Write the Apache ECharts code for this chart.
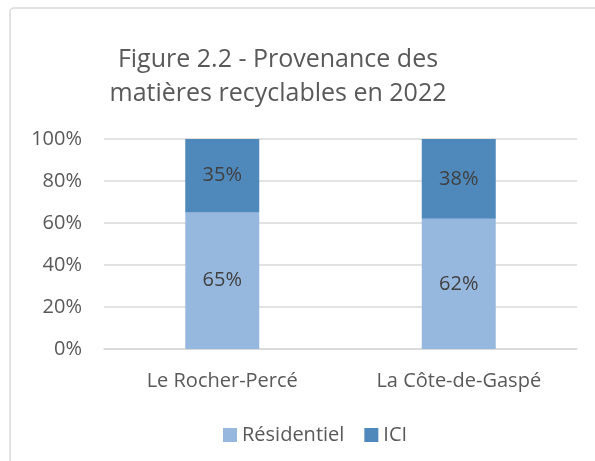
<!DOCTYPE html>
<html>
<head>
<meta charset="utf-8">
<script src="https://cdn.jsdelivr.net/npm/echarts@6/dist/echarts.min.js"></script>
<style>
  html, body { margin: 0; padding: 0; background: #fff; }
  #chart { width: 595px; height: 461px; }
</style>
</head>
<body>
<div id="chart"></div>
<script>
const categories = ['Le Rocher-Percé', 'La Côte-de-Gaspé']
const residentiel = [65, 62]
const ici = [35, 38]
const seriesNames = ['Résidentiel', 'ICI']

const FONT = 'Open Sans'
const chart = echarts.init(document.getElementById('chart'))

const option = {
  animation: false,
  backgroundColor: '#fff',
  textStyle: { fontFamily: FONT },
  title: {
    text: 'Figure 2.2 - Provenance des\nmatières recyclables en 2022',
    left: 273,
    top: 38,
    textAlign: 'center',
    textStyle: {
      fontFamily: FONT,
      fontSize: 25,
      fontWeight: 'normal',
      lineHeight: 34,
      color: '#595959'
    }
  },
  legend: {
    data: seriesNames,
    left: 218,
    top: 420,
    itemWidth: 14,
    itemHeight: 14,
    itemGap: 20,
    textStyle: { fontSize: 20, color: '#595959', fontFamily: FONT },
    icon: 'rect'
  },
  grid: {
    left: 104,
    right: 18,
    top: 139,
    bottom: 112
  },
  xAxis: {
    type: 'category',
    data: categories,
    axisTick: { show: false },
    axisLine: { lineStyle: { color: '#d9d9d9', width: 1.5 } },
    axisLabel: { color: '#595959', fontSize: 20, margin: 22 }
  },
  yAxis: {
    type: 'value',
    min: 0,
    max: 100,
    interval: 20,
    axisLabel: { formatter: '{value}%', color: '#595959', fontSize: 20, margin: 22 },
    splitLine: { lineStyle: { color: '#d9d9d9', width: 1.5 } },
    axisLine: { show: false },
    axisTick: { show: false }
  },
  series: [
    {
      name: 'Résidentiel',
      type: 'bar',
      stack: 'total',
      data: residentiel,
      barWidth: 74,
      itemStyle: { color: '#97b8de' },
      label: {
        show: true,
        position: 'inside',
        formatter: '{c}%',
        color: '#404040',
        fontSize: 20
      }
    },
    {
      name: 'ICI',
      type: 'bar',
      stack: 'total',
      data: ici,
      barWidth: 74,
      itemStyle: { color: '#4f88bb' },
      label: {
        show: true,
        position: 'inside',
        formatter: '{c}%',
        color: '#404040',
        fontSize: 20
      }
    }
  ],
  graphic: [
    {
      type: 'rect',
      shape: { x: 10, y: 8, width: 620, height: 480, r: 4 },
      style: { fill: 'none', stroke: '#d9d9d9', lineWidth: 1.5 },
      z: -1
    }
  ]
}

chart.setOption(option)
</script>
</body>
</html>
